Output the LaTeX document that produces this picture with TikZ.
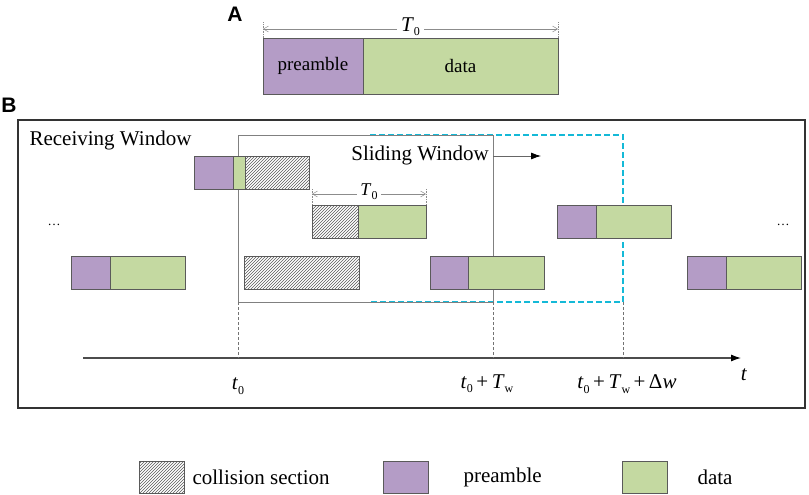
\documentclass[tikz,border=0pt]{standalone}
\usepackage{fontspec}
\setmainfont{Liberation Serif}
\newfontfamily\panelfont{Liberation Sans}
\usetikzlibrary{arrows.meta,patterns,positioning,calc}
\definecolor{preC}{RGB}{180,156,198}
\definecolor{datC}{RGB}{196,217,161}
\definecolor{edgeC}{RGB}{90,90,90}
\definecolor{slideC}{RGB}{20,185,215}
\newcommand{\tsub}[2]{\textit{#1}\raisebox{-0.45ex}{\fontsize{12}{12}\selectfont #2}}
\tikzset{
    blk/.style={draw=edgeC, line width=0.9pt, inner sep=0pt, outer sep=0pt, anchor=west, minimum height=33pt},
    pre/.style={blk, fill=preC},
    dat/.style={blk, fill=datC},
    col/.style={blk, fill=black!6, pattern=north east lines, pattern color=black!65},
    txt/.style={font=\fontsize{21}{24}\selectfont},
    span/.style={draw=black!45, line width=0.5pt, {Straight Barb[length=5pt,width=6pt]}-{Straight Barb[length=5pt,width=6pt]}},
    tick/.style={draw=black!45, line width=0.5pt, dash pattern=on 1.5pt off 1pt},
    guide/.style={draw=black!55, line width=0.6pt, dash pattern=on 3pt off 2pt}
}
\begin{document}
\begin{tikzpicture}[x=1pt, y=-1pt, >={Latex[length=10pt,width=7pt,fill=black,color=black]}]
    \useasboundingbox (0,0) rectangle (809,495);
    % panel A
    \node[font=\panelfont\bfseries\fontsize{21}{24}\selectfont] (labA) at (235,14) {A};
    \node[pre, minimum width=100pt, minimum height=56pt] (aPre) at (263,66) {};
    \node[dat, minimum width=195pt, minimum height=56pt, right=0pt of aPre] (aDat) {};
    \node[font=\fontsize{19}{22}\selectfont] at (aPre) {preamble};
    \node[font=\fontsize{19}{22}\selectfont] at (aDat) {data};
    \draw[tick] (aPre.north west) -- ++(0,-16) coordinate (aL);
    \draw[tick] (aDat.north east) -- ++(0,-16) coordinate (aR);
    \draw[span] ($(aL)+(0,7)$) -- ($(aR)+(0,7)$)
        node[midway, fill=white, inner xsep=4pt, inner ysep=0pt, font=\fontsize{21}{22}\selectfont, yshift=2pt] {\tsub{T}{0}};

    % panel B
    \node[font=\panelfont\bfseries\fontsize{21}{24}\selectfont] (labB) at (9,105) {B};
    \draw[line width=1.4pt, black!80] (18,120) rectangle (805,408);
    \node[txt, anchor=west] (recv) at (26,140) {Receiving Window};

    % sliding window and its shifted copy (behind the frames)
    \coordinate (swTL) at (238,135);
    \coordinate (swBL) at (238,302);
    \coordinate (swBR) at (493,302);
    \coordinate (nwTR) at (623,135);
    \coordinate (nwBR) at (623,302);
    \draw[slideC, line width=1.1pt, dash pattern=on 6pt off 3pt] (370,135) -- (nwTR) -- (nwBR) -- (370,302);
    \draw[black!50, line width=0.8pt] (swTL) rectangle (swBR);
    \node[txt, anchor=east, inner sep=2pt] (slide) at (491,155) {Sliding Window};
    \coordinate (swE) at (493,156);
    \coordinate (swTip) at (541,156);
    \draw[->, black!60, line width=0.8pt] (swE) -- (swTip);

    % row 1
    \node[pre, minimum width=39pt] (r1a) at (194,172.5) {};
    \node[dat, minimum width=12pt, right=0pt of r1a] (r1b) {};
    \node[col, minimum width=64pt, right=0pt of r1b] (r1c) {};
    % row 2
    \node[col, minimum width=46pt] (r2a) at (312,221.5) {};
    \node[dat, minimum width=68pt, right=0pt of r2a] (r2b) {};
    \node[pre, minimum width=39pt] (r2c) at (557,221.5) {};
    \node[dat, minimum width=75pt, right=0pt of r2c] (r2d) {};
    \draw[tick] (r2a.north west) -- ++(0,-17) coordinate (bL);
    \draw[tick] (r2b.north east) -- ++(0,-17) coordinate (bR);
    \draw[span] ($(bL)+(0,6)$) -- ($(bR)+(0,6)$)
        node[midway, fill=white, inner xsep=3pt, inner ysep=0pt, font=\fontsize{18}{19}\selectfont, yshift=2pt] {\tsub{T}{0}};
    % row 3
    \node[pre, minimum width=39pt] (r3a) at (71,273) {};
    \node[dat, minimum width=75pt, right=0pt of r3a] (r3b) {};
    \node[col, minimum width=115pt] (r3c) at (244,273) {};
    \node[pre, minimum width=38pt] (r3d) at (430,273) {};
    \node[dat, minimum width=76pt, right=0pt of r3d] (r3e) {};
    \node[pre, minimum width=39pt] (r3f) at (687,273) {};
    \node[dat, minimum width=75pt, right=0pt of r3f] (r3g) {};
    \node[font=\fontsize{13}{15}\selectfont, anchor=base] (dotsL) at (54,225) {\dots};
    \node[font=\fontsize{13}{15}\selectfont, anchor=base] (dotsR) at (783,225) {\dots};

    % time axis
    \coordinate (ax0) at (83,358);
    \coordinate (ax1) at (741,358);
    \draw[->, black!70, line width=1.1pt] (ax0) -- (ax1);
    \draw[guide] (swBL) -- (swBL |- ax0);
    \draw[guide] (swBR) -- (swBR |- ax0);
    \draw[guide] (nwBR) -- (nwBR |- ax0);
    \node[txt] (tA) at (238,386) {\tsub{t}{0}};
    \node[txt] (tB) at (487,384) {\tsub{t}{0}\,+\,\tsub{T}{w}};
    \node[txt] (tC) at (627,384) {\tsub{t}{0}\,+\,\tsub{T}{w}\,+\,Δ\textit{w}};
    \node[txt] (tT) at (744,375) {\textit{t}};

    % legend
    \node[col, minimum width=45pt, minimum height=32pt] (lgCol) at (139,477) {};
    \node[txt, right=5pt of lgCol] (lgColT) {collision section};
    \node[pre, minimum width=45pt, minimum height=32pt] (lgPre) at (383,477) {};
    \node[txt, anchor=west] (lgPreT) at (460,477) {preamble};
    \node[dat, minimum width=45pt, minimum height=32pt] (lgDat) at (622,477) {};
    \node[txt, anchor=west] (lgDatT) at (694,477) {data};
\end{tikzpicture}
\end{document}
